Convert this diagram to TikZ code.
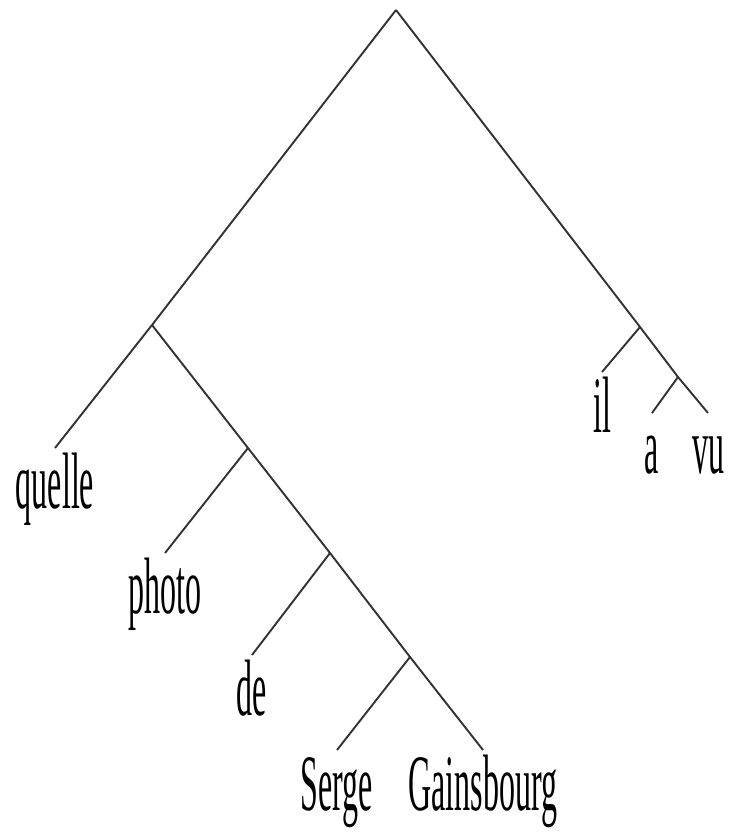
\documentclass[tikz,border=0pt]{standalone}
\usepackage{fontspec}
\newfontfamily\treefont{Liberation Serif}[FakeStretch=0.4]
\usepackage{tikz}
\tikzset{every node/.append style={align=center}}
\definecolor{branchgrey}{RGB}{50,50,50}

\begin{document}
\begin{tikzpicture}[x=1pt, y=-1pt,
    branch/.style={draw=branchgrey, line width=1.9pt},
    word/.style={anchor=north, inner sep=4pt, text height=56pt,
      text depth=18pt, font=\treefont\fontsize{80}{90}\selectfont}]

  \useasboundingbox (0,0) rectangle (729,834);

  % === JUNCTIONS ===
  \coordinate (root) at (396,10);
  \coordinate (np) at (152,325);
  \coordinate (nphoto) at (248,448);
  \coordinate (ppde) at (330,553);
  \coordinate (nserge) at (410,657);
  \coordinate (clause) at (640,327);
  \coordinate (vp) at (678,377);

  % === WORDS ===
  \node[word] (quelle) at (55,448) {quelle};
  \node[word] (photo) at (165,553) {photo};
  \node[word] (de) at (252,655) {de};
  \node[word] (serge) at (337,750) {Serge};
  \node[word] (gainsbourg) at (483,750) {Gainsbourg};
  \node[word] (il) at (602,372) {il};
  \node[word] (a) at (652,413) {a};
  \node[word] (vu) at (708,413) {vu};

  % Left branch: the noun phrase
  \draw[branch] (root) -- (np);
  \draw[branch] (np) -- (quelle.north);
  \draw[branch] (np) -- (nphoto) -- (ppde) -- (nserge) -- (gainsbourg.north);
  \draw[branch] (nphoto) -- (photo.north);
  \draw[branch] (ppde) -- (de.north);
  \draw[branch] (nserge) -- (serge.north);

  % Right branch: the clause
  \draw[branch] (root) -- (clause) -- (vp) -- (vu.north);
  \draw[branch] (clause) -- (il.north);
  \draw[branch] (vp) -- (a.north);

\end{tikzpicture}
\end{document}
